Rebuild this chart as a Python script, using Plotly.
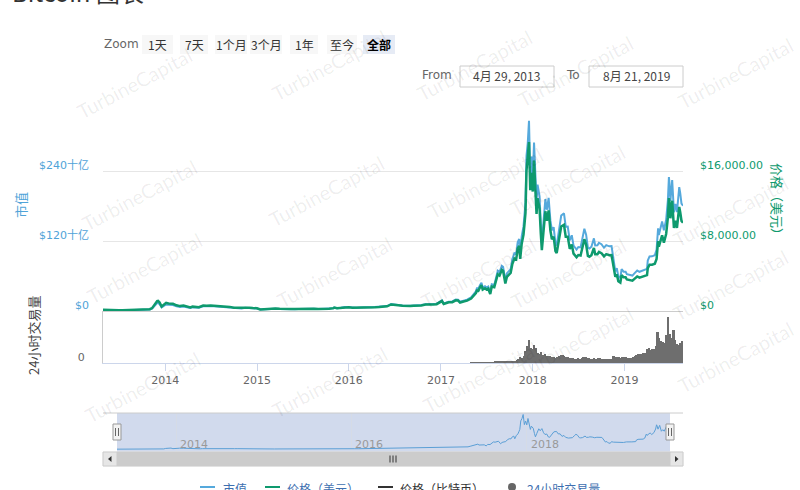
import plotly.graph_objects as go
import pandas as pd

# ---------------- data ----------------
dates = [
    # 2013
    "2013-04-29","2013-05-15","2013-06-01","2013-06-15","2013-07-01","2013-07-15","2013-08-01","2013-08-15","2013-09-01","2013-09-15",
    "2013-10-01","2013-10-15","2013-11-01","2013-11-10","2013-11-18","2013-11-30","2013-12-04","2013-12-10","2013-12-18","2013-12-25",
    # 2014
    "2014-01-05","2014-01-15","2014-02-01","2014-02-15","2014-03-01","2014-03-15","2014-04-01","2014-04-11","2014-04-20","2014-05-01",
    "2014-05-15","2014-06-01","2014-06-15","2014-07-01","2014-07-15","2014-08-01","2014-08-18","2014-09-01","2014-09-15","2014-10-01",
    "2014-10-15","2014-11-01","2014-11-15","2014-12-01","2014-12-15",
    # 2015
    "2015-01-01","2015-01-14","2015-02-01","2015-02-15","2015-03-01","2015-03-15","2015-04-01","2015-04-15","2015-05-01","2015-05-15",
    "2015-06-01","2015-06-15","2015-07-01","2015-07-15","2015-08-01","2015-08-15","2015-09-01","2015-09-15","2015-10-01","2015-10-15",
    "2015-11-01","2015-11-04","2015-11-15","2015-12-01","2015-12-15",
    # 2016
    "2016-01-01","2016-01-15","2016-02-01","2016-02-15","2016-03-01","2016-03-15","2016-04-01","2016-04-15","2016-05-01","2016-05-15",
    "2016-06-01","2016-06-17","2016-07-01","2016-07-15","2016-08-01","2016-08-15","2016-09-01","2016-09-15","2016-10-01","2016-10-15",
    "2016-11-01","2016-11-15","2016-12-01","2016-12-15",
    # 2017
    "2017-01-01","2017-01-05","2017-01-12","2017-01-20","2017-02-01","2017-02-15","2017-03-01","2017-03-10","2017-03-18","2017-04-01",
    "2017-04-15","2017-05-01","2017-05-10","2017-05-20","2017-05-25","2017-05-28","2017-06-05","2017-06-11","2017-06-16","2017-06-25",
    "2017-07-01","2017-07-08","2017-07-16","2017-07-22","2017-08-01","2017-08-08","2017-08-15","2017-08-22","2017-08-31","2017-09-05",
    "2017-09-14","2017-09-20","2017-09-28","2017-10-05","2017-10-12","2017-10-20","2017-10-27","2017-11-02","2017-11-08","2017-11-12",
    "2017-11-18","2017-11-25","2017-11-29","2017-12-03","2017-12-07","2017-12-12","2017-12-17","2017-12-22","2017-12-27",
    # 2018
    "2018-01-01","2018-01-06","2018-01-10","2018-01-16","2018-01-20","2018-01-28","2018-02-02","2018-02-06","2018-02-12","2018-02-20",
    "2018-02-26","2018-03-05","2018-03-12","2018-03-18","2018-03-25","2018-04-01","2018-04-06","2018-04-15","2018-04-24","2018-05-05",
    "2018-05-12","2018-05-20","2018-05-28","2018-06-05","2018-06-12","2018-06-24","2018-07-01","2018-07-10","2018-07-18","2018-07-25",
    "2018-08-01","2018-08-08","2018-08-14","2018-08-22","2018-09-01","2018-09-06","2018-09-15","2018-09-21","2018-10-01","2018-10-11",
    "2018-10-20","2018-11-01","2018-11-10","2018-11-15","2018-11-20","2018-11-25","2018-12-01","2018-12-07","2018-12-15","2018-12-20",
    "2018-12-28",
    # 2019
    "2019-01-05","2019-01-10","2019-01-20","2019-02-01","2019-02-08","2019-02-20","2019-03-01","2019-03-15","2019-03-31","2019-04-03",
    "2019-04-10","2019-04-20","2019-05-01","2019-05-08","2019-05-14","2019-05-17","2019-05-25","2019-05-30","2019-06-06","2019-06-15",
    "2019-06-22","2019-06-26","2019-06-28","2019-07-02","2019-07-09","2019-07-16","2019-07-22","2019-07-28","2019-08-01","2019-08-06",
    "2019-08-10","2019-08-15","2019-08-21",
]

price_usd = [
    144,114,129,100,88,98,105,108,140,132, 125,150,205,330,700,1130,1150,980,520,680,
    930,870,830,650,560,630,480,400,500,450, 440,630,590,640,620,590,490,480,470,385, 395,325,400,380,345,
    315,180,225,235,260,285,245,220,235,237, 225,237,258,287,280,260,228,230,237,255, 325,400,320,360,445,
    434,375,370,400,435,415,416,430,450,455, 535,750,675,660,605,570,570,605,615,638, 730,710,755,780,
    1000,1135,800,895,990,1010,1220,1200,970,1090, 1180,1420,1750,2050,2450,2200,2700,2950,2450,2600,
    2450,2560,1930,2800,2720,3400,4200,4050,4700,4600, 3150,3900,4200,4350,5400,6000,5900,7100,7450,5950,
    7700,8700,9900,11200,16000,17300,19300,13800,15800,
    13650,17200,14600,11100,12900,11700,8800,6950,8900,11400, 10300,11500,9200,8200,8500,6850,6620,8000,9650,9850,
    8500,8500,7100,7600,6550,6150,6400,6350,7350,8200, 7600,6300,6200,6380,7200,6500,6500,6750,6600,6250,
    6500,6380,6400,5600,4450,3900,4200,3400,3250,4100, 3850,
    3850,3600,3550,3460,3650,3950,3820,3950,4100,4900, 5300,5300,5400,5950,8000,7350,8000,8650,7800,8800,
    10700,12900,12400,10600,12600,9500,10300,9500,10400,11900, 11300,10300,10100,
]

market_cap_bn = [
    1.60,1.27,1.44,1.12,0.99,1.12,1.21,1.25,1.64,1.55, 1.48,1.78,2.44,3.94,8.37,13.6,13.9,11.8,6.3,8.2,
    11.3,10.6,10.2,8.0,6.9,7.8,6.0,5.0,6.3,5.7, 5.6,8.1,7.6,8.3,8.1,7.7,6.4,6.3,6.2,5.1, 5.3,4.4,5.4,5.2,4.7,
    4.3,2.5,3.1,3.3,3.6,4.0,3.4,3.1,3.3,3.4, 3.2,3.4,3.7,4.1,4.1,3.8,3.3,3.4,3.5,3.8, 4.8,5.9,4.7,5.4,6.7,
    6.5,5.6,5.6,6.1,6.7,6.4,6.4,6.6,7.0,7.1, 8.4,11.8,10.6,10.4,9.6,9.0,9.0,9.6,9.8,10.2, 11.7,11.4,12.1,12.5,
    16.1,18.3,12.9,14.4,16.0,16.3,19.8,19.5,15.8,17.8, 19.3,23.2,28.6,33.6,40.1,36.0,44.2,48.3,40.1,42.6,
    40.2,42.0,31.7,46.0,44.7,55.9,69.1,66.7,77.4,75.8, 52.0,64.4,69.4,71.9,89.3,99.3,97.7,117.7,123.5,98.7,
    127.8,144.5,164.5,186.2,266.1,287.9,326.0,231.0,264.6,
    228.9,288.6,245.1,186.4,216.7,196.7,148.0,116.9,149.8,192.0, 173.6,194.0,155.3,138.5,143.7,115.9,112.1,135.6,163.7,167.4,
    144.6,144.8,121.1,129.8,112.0,105.3,109.7,109.0,126.3,141.1, 130.9,108.6,107.0,110.2,124.5,112.4,112.5,116.9,114.5,108.5,
    112.9,110.9,111.4,97.5,77.5,67.9,73.2,59.3,56.7,71.6, 67.3,
    67.3,63.0,62.2,60.7,64.1,69.4,67.2,69.6,72.3,86.5, 93.6,93.7,95.6,105.4,141.8,130.3,141.9,153.5,138.5,156.4,
    190.3,229.5,220.6,188.7,224.4,169.3,183.6,169.4,185.6,212.5, 201.9,184.1,180.6,
]

# weekly 24h volume (billion USD), weeks starting 2017-05-01
volume_start = "2017-05-01"
volume_bn = [
    0.3,0.4,0.5,0.6,0.6,  0.8,0.9,0.7,0.6,  0.5,0.5,0.7,0.6,0.6,  1.0,1.5,1.2,1.3,  1.5,2.0,1.4,1.1,
    1.3,1.8,2.4,2.0,2.6,  3.5,5.5,4.5,7.0,  12.0,16.0,22.0,14.5,
    13.5,17.0,14.0,10.0,9.0,  11.0,8.0,8.5,7.0,  7.0,6.5,6.0,5.5,  5.0,5.5,6.5,8.0,7.5,  7.0,6.0,5.5,5.0,
    5.0,4.5,4.2,4.3,  4.5,4.2,4.8,6.0,5.5,  4.8,4.6,4.0,4.3,  4.8,4.2,4.4,4.6,  4.3,4.0,4.1,3.9,3.8,
    4.0,4.2,6.5,6.0,  5.5,5.3,5.0,6.0,5.5,
    5.6,5.2,5.0,5.1,  5.8,6.5,8.0,8.5,  8.8,9.0,9.3,9.5,  13.0,14.5,12.5,13.0,13.5,  16.0,30.0,24.0,21.0,
    20.0,19.0,27.0,44.0,  28.0,24.0,32.0,22.0,18.0,  17.0,19.0,21.0,
]
volume_dates = pd.date_range(volume_start, periods=len(volume_bn), freq="7D")

year_ticks = ["2014", "2015", "2016", "2017", "2018", "2019"]
nav_year_ticks = ["2014", "2016", "2018"]
cap_ticks = [0, 120, 240, 360]
cap_ticktext = ["$0", "$120十亿", "$240十亿", ""]
price_ticks = [0, 8000, 16000]
price_ticktext = ["$0", "$8,000.00", "$16,000.00"]
range_buttons = ["1天", "7天", "1个月", "3个月", "1年", "至今", "全部"]
legend_names = ["市值", "价格（美元）", "价格（比特币）", "24小时交易量"]

assert len(dates) == len(price_usd) == len(market_cap_bn)

# ---------------- style / geometry ----------------
BLUE = "#55a9dc"
GREEN = "#0e9a6e"
GRAY_BAR = "#6e6e6e"
FONT = "DejaVu Sans, Noto Sans CJK SC, sans-serif"
CJK = "Noto Sans CJK SC, DejaVu Sans, sans-serif"

L, R, T, B = 103, 117, 101, 24
W, H = 800, 490
PW, PH = W - L - R, H - T - B


def px(x):
    return (x - L) / PW


def py(y):
    return (H - B - y) / PH


x0, x1 = "2013-04-29", "2019-08-21"

fig = go.Figure()

fig.add_trace(go.Scatter(x=dates, y=market_cap_bn, mode="lines", name="市值",
                         line=dict(color=BLUE, width=2), xaxis="x", yaxis="y"))
fig.add_trace(go.Scatter(x=dates, y=price_usd, mode="lines", name="价格（美元）",
                         line=dict(color=GREEN, width=2.5), xaxis="x", yaxis="y2"))
fig.add_trace(go.Bar(x=volume_dates, y=volume_bn, name="24小时交易量",
                     marker=dict(color=GRAY_BAR, line=dict(width=0)),
                     width=7 * 86400000, xaxis="x2", yaxis="y3"))
fig.add_trace(go.Scatter(x=dates, y=market_cap_bn, mode="lines", name="nav",
                         line=dict(color="#5b9fd6", width=1), xaxis="x3", yaxis="y4"))

main_dom = [py(311), 1]
vol_dom = [py(363), py(311)]
nav_dom = [py(452), py(413)]

fig.update_layout(
    width=W, height=H,
    margin=dict(l=L, r=R, t=T, b=B),
    paper_bgcolor="white", plot_bgcolor="rgba(0,0,0,0)",
    showlegend=False,
    font=dict(family=FONT, size=11, color="#666"),
    bargap=0,
    xaxis=dict(type="date", domain=[0, 1], anchor="y", range=[x0, x1],
               showticklabels=False, showgrid=False, ticks="",
               showline=True, linecolor="#cccccc", linewidth=1, zeroline=False),
    yaxis=dict(domain=main_dom, range=[0, 360], tickvals=cap_ticks, ticktext=cap_ticktext,
               showgrid=True, gridcolor="#e6e6e6", gridwidth=1, zeroline=False,
               tickfont=dict(color="#4fa3d8", size=11, family=FONT),
               ticklabelshift=-6, ticklabelstandoff=13, ticks=""),
    yaxis2=dict(overlaying="y", side="right", anchor="x", range=[0, 24000],
                tickvals=price_ticks, ticktext=price_ticktext, showgrid=False, zeroline=False,
                tickfont=dict(color=GREEN, size=11, family=FONT),
                ticklabelshift=-6, ticklabelstandoff=16, ticks=""),
    xaxis2=dict(type="date", domain=[0, 1], anchor="y3", matches="x", range=[x0, x1],
                tickvals=[f"{y}-01-01" for y in year_ticks], ticktext=year_ticks,
                ticks="outside", ticklen=7, tickcolor="#ccd6eb",
                showline=True, linecolor="#ccd6eb", showgrid=False, zeroline=False,
                tickfont=dict(color="#666", size=11, family=FONT)),
    yaxis3=dict(domain=vol_dom, range=[0, 50], tickvals=[0], ticktext=["0"],
                showgrid=False, zeroline=False, showline=True, linecolor="#cccccc",
                tickfont=dict(color="#666", size=11, family=FONT),
                ticklabelshift=-6, ticklabelstandoff=15, ticks=""),
    xaxis3=dict(type="date", domain=[px(117), px(670)], anchor="y4", range=[x0, x1],
                tickvals=[f"{y}-01-01" for y in nav_year_ticks],
                showticklabels=False, ticks="",
                showgrid=True, gridcolor="#d5dbe6", showline=False, zeroline=False),
    yaxis4=dict(domain=nav_dom, range=[-25, 340], showticklabels=False,
                showgrid=False, zeroline=False, ticks=""),
)

shapes = []
annotations = []


def rect(xa, ya, xb, yb, fill, line="rgba(0,0,0,0)", lw=1, layer="above"):
    shapes.append(dict(type="rect", xref="paper", yref="paper",
                       x0=px(xa), x1=px(xb), y0=py(ya), y1=py(yb),
                       fillcolor=fill, line=dict(color=line, width=lw), layer=layer))


def hline(xa, xb, y, color, w=1):
    shapes.append(dict(type="line", xref="paper", yref="paper",
                       x0=px(xa), x1=px(xb), y0=py(y), y1=py(y),
                       line=dict(color=color, width=w)))


def vline(x, ya, yb, color, w=1):
    shapes.append(dict(type="line", xref="paper", yref="paper",
                       x0=px(x), x1=px(x), y0=py(ya), y1=py(yb),
                       line=dict(color=color, width=w)))


def text(x, y, s, size=12, color="#333", xanchor="center", yanchor="middle",
         angle=0, family=FONT, bold=False):
    if bold:
        s = f"<b>{s}</b>"
    annotations.append(dict(x=px(x), y=py(y), xref="paper", yref="paper", text=s,
                            showarrow=False, xanchor=xanchor, yanchor=yanchor,
                            textangle=angle, font=dict(size=size, color=color, family=family)))


# watermarks
wm_positions = [
    (70, 40), (265, 22), (475, 22), (640, 28), (800, 30),
    (75, 152), (262, 148), (485, 140), (632, 137), (795, 168),
    (80, 268), (270, 272), (478, 273), (633, 273), (795, 285),
    (78, 430), (265, 425), (480, 420), (640, 385), (800, 400),
]
for (wx, wy) in wm_positions:
    annotations.append(dict(x=px(wx), y=py(wy), xref="paper", yref="paper",
                            text="TurbineCapital", showarrow=False, textangle=-28,
                            font=dict(size=20, color="rgba(0,0,0,0.07)", family="Lato, DejaVu Sans")))

# title (cut off at top)
text(10, 11, "Bitcoin 图表", size=24, color="#333", xanchor="left", yanchor="bottom", family=CJK)

# zoom buttons
text(121, 44, "Zoom", size=12, color="#666")
btn_spans = [(142, 173), (180, 208), (215, 247), (250, 282), (290, 318), (327, 357), (363, 395)]
for lbl, (bx0, bx1) in zip(range_buttons, btn_spans):
    sel = lbl == "全部"
    rect(bx0, 35, bx1, 54, "#e6ebf5" if sel else "#f7f7f7")
    text((bx0 + bx1) / 2, 44.5, lbl, size=12, color="#000" if sel else "#333", family=CJK, bold=sel)

# from / to inputs
text(437, 75, "From", size=12, color="#666")
rect(460, 66, 554, 87, "white", "#cccccc")
text(507, 76, "4月 29, 2013", size=12, color="#444", family=CJK)
text(573, 75, "To", size=12, color="#666")
rect(589, 66, 683, 87, "white", "#cccccc")
text(636, 76, "8月 21, 2019", size=12, color="#444", family=CJK)

# axis titles
text(20, 205, "市值", size=13, color="#4fa3d8", angle=-90, family=CJK)
text(33, 336, "24小时交易量", size=13, color="#444", angle=-90, family=CJK)
text(778, 202, "价格（美元）", size=13, color=GREEN, angle=90, family=CJK)

# navigator
rect(117, 413, 670, 452, "rgba(102,133,194,0.3)", layer="below")
hline(103, 683, 413, "#cccccc")
for yr in nav_year_ticks:
    annotations.append(dict(x=f"{yr}-01-01", xref="x3", y=py(444), yref="paper", text=yr,
                            showarrow=False, xanchor="left", yanchor="middle", xshift=2,
                            font=dict(size=11, color="#999", family=FONT)))
for hx in (117, 670):
    rect(hx - 4, 424, hx + 4, 440, "#f2f2f2", "#999999")
    vline(hx - 1.5, 428, 436, "#666")
    vline(hx + 1.5, 428, 436, "#666")

# scrollbar
rect(103, 452, 683, 466, "#f2f2f2", "#f2f2f2")
rect(117, 452, 670, 466, "#cccccc", "#cccccc")
rect(103, 452, 117, 466, "#e6e6e6", "#cccccc")
rect(670, 452, 683, 466, "#e6e6e6", "#cccccc")
for gx in (390, 393, 396):
    vline(gx, 455.5, 462.5, "#333")
shapes.append(dict(type="path", xref="paper", yref="paper",
                   path=f"M {px(108)} {py(459)} L {px(111.5)} {py(456)} L {px(111.5)} {py(462)} Z",
                   fillcolor="#333", line=dict(width=0)))
shapes.append(dict(type="path", xref="paper", yref="paper",
                   path=f"M {px(678.5)} {py(459)} L {px(675)} {py(456)} L {px(675)} {py(462)} Z",
                   fillcolor="#333", line=dict(width=0)))

# legend (partly cut off at the bottom, as in the reference)
LEG_Y = 487
leg_items = [
    (200, 215, 221, legend_names[0], BLUE, "#3e6fb0", "line"),
    (265, 280, 285, legend_names[1], GREEN, "#3e6fb0", "line"),
    (378, 393, 398, legend_names[2], "#333333", "#333", "line"),
    (508, 516, 525, legend_names[3], "#666666", "#3e6fb0", "dot"),
]
for (lx0, lx1, tx, name, col, tcol, kind) in leg_items:
    if kind == "line":
        hline(lx0, lx1, LEG_Y, col, 2)
    else:
        shapes.append(dict(type="circle", xref="paper", yref="paper",
                           x0=px(lx0), x1=px(lx1), y0=py(LEG_Y + 4), y1=py(LEG_Y - 4),
                           fillcolor=col, line=dict(width=0)))
    text(tx, LEG_Y + 1, name, size=12, color=tcol, xanchor="left", family=CJK)

fig.update_layout(shapes=shapes, annotations=annotations)
fig.write_html("out.html", config={"displayModeBar": False},
               post_script="document.body.style.margin='0';document.body.style.overflow='hidden';")
